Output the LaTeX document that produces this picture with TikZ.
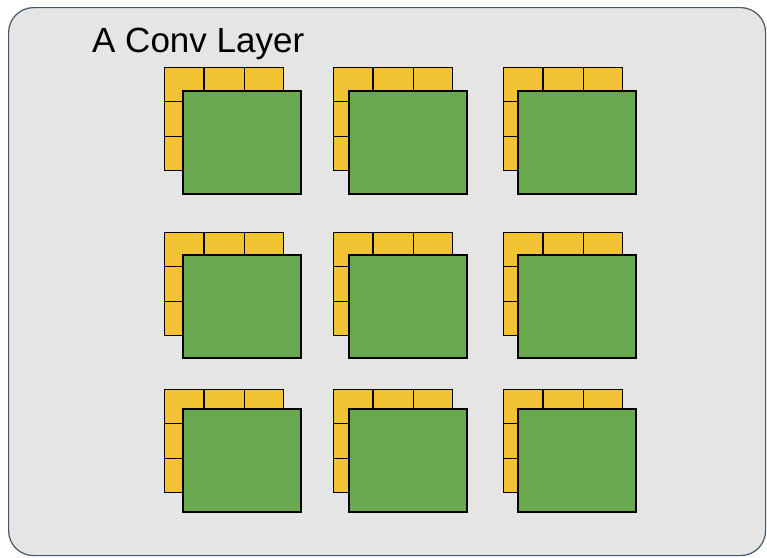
\documentclass[tikz,border=0pt]{standalone}
\usepackage{fontspec}
\setmainfont{Liberation Sans}
\usepackage{xcolor}
\usepackage{tikz}
\usetikzlibrary{positioning,calc}
\definecolor{cBg}{RGB}{229,229,229}
\definecolor{cEdge}{RGB}{72,88,108}
\definecolor{cKern}{RGB}{241,194,50}
\definecolor{cMap}{RGB}{106,168,79}

\begin{document}
\begin{tikzpicture}[x=1pt,y=-1pt]
\tikzset{
  kern/.style={draw,fill=cKern,line width=1.3pt,minimum width=119pt,minimum height=103pt,inner sep=0pt,anchor=north west},
  fmap/.style={draw,fill=cMap,line width=1.6pt,minimum width=118pt,minimum height=103pt,inner sep=0pt,anchor=north west},
  gl/.style={line width=1.3pt}
}
\useasboundingbox (0,0) rectangle (767,557);
% layer box
\node[draw=cEdge,fill=cBg,line width=1.2pt,rounded corners=25pt,minimum width=757pt,minimum height=548pt,inner sep=0pt,anchor=north west] (layer) at (8,7) {};
\node[font=\fontsize{35}{40}\selectfont,inner sep=0pt,anchor=base west] (title) at (92,52) {A Conv Layer};

% 3x3 kernels with their maps
\foreach \c/\x/\dx in {1/164/18,2/333/15,3/503/14}{
  \foreach \r/\y/\dy in {1/67/23,2/232/22,3/389/19}{
    \node[kern] (k\c\r) at (\x,\y) {};
    \draw[gl] ($(k\c\r.north west)!1/3!(k\c\r.north east)$) -- ($(k\c\r.south west)!1/3!(k\c\r.south east)$);
    \draw[gl] ($(k\c\r.north west)!2/3!(k\c\r.north east)$) -- ($(k\c\r.south west)!2/3!(k\c\r.south east)$);
    \draw[gl] ($(k\c\r.north west)!1/3!(k\c\r.south west)$) -- ($(k\c\r.north east)!1/3!(k\c\r.south east)$);
    \draw[gl] ($(k\c\r.north west)!2/3!(k\c\r.south west)$) -- ($(k\c\r.north east)!2/3!(k\c\r.south east)$);
    \node[fmap] (m\c\r) at ($(k\c\r.north west)+(\dx,\dy)$) {};
  }
}
\end{tikzpicture}
\end{document}
